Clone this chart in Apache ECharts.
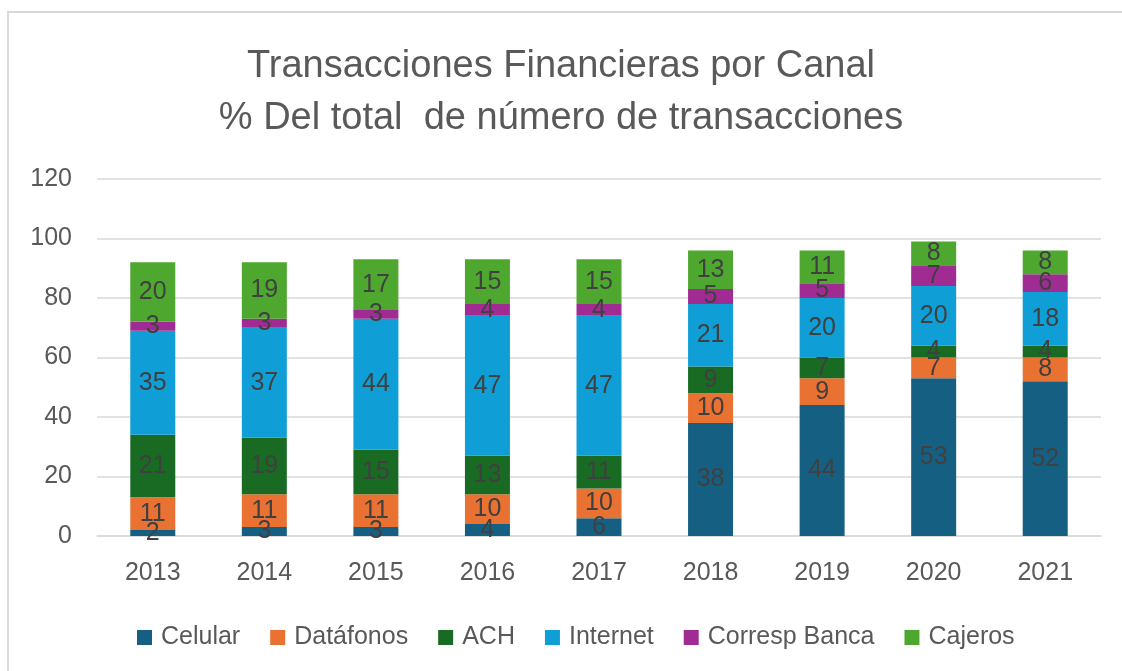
<!DOCTYPE html>
<html>
<head>
<meta charset="utf-8">
<script src="https://cdn.jsdelivr.net/npm/echarts@6/dist/echarts.min.js"></script>
<style>
  html, body { margin: 0; padding: 0; background: #fff; }
  #chart { width: 1122px; height: 671px; }
</style>
</head>
<body>
<div id="chart"></div>
<script>
const years = ['2013', '2014', '2015', '2016', '2017', '2018', '2019', '2020', '2021']
const celular = [2, 3, 3, 4, 6, 38, 44, 53, 52]
const datafonos = [11, 11, 11, 10, 10, 10, 9, 7, 8]
const ach = [21, 19, 15, 13, 11, 9, 7, 4, 4]
const internet = [35, 37, 44, 47, 47, 21, 20, 20, 18]
const corresp = [3, 3, 3, 4, 4, 5, 5, 7, 6]
const cajeros = [20, 19, 17, 15, 15, 13, 11, 8, 8]

const font = 'Liberation Sans, Arial, sans-serif'

const makeSeries = (name, data, color) => ({
  name,
  type: 'bar',
  stack: 'total',
  barWidth: 45,
  data,
  itemStyle: { color },
  label: {
    show: true,
    position: 'inside',
    color: '#404040',
    fontSize: 25,
    fontFamily: font
  }
})

const chart = echarts.init(document.getElementById('chart'))

chart.setOption({
  animation: false,
  graphic: [{
    type: 'rect',
    shape: { x: 8, y: 12, width: 1200, height: 700 },
    style: { fill: 'none', stroke: '#d9d9d9', lineWidth: 2 }
  }],
  title: {
    text: 'Transacciones Financieras por Canal\n% Del total  de número de transacciones',
    left: 'center',
    top: 36,
    textStyle: {
      color: '#595959',
      fontSize: 38,
      fontWeight: 'normal',
      fontFamily: font,
      lineHeight: 52
    }
  },
  legend: {
    top: 625,
    left: 137,
    padding: 0,
    itemWidth: 15,
    itemHeight: 15,
    itemGap: 30,
    icon: 'rect',
    textStyle: { color: '#595959', fontSize: 25, fontFamily: font, padding: [0, 0, 0, 4] }
  },
  grid: {
    left: 97,
    right: 21,
    top: 179,
    bottom: 135
  },
  xAxis: {
    type: 'category',
    data: years,
    axisLine: { lineStyle: { color: '#d9d9d9', width: 1.5 } },
    axisTick: { show: false },
    axisLabel: { color: '#595959', fontSize: 25, fontFamily: font, margin: 25 }
  },
  yAxis: {
    type: 'value',
    min: 0,
    max: 120,
    interval: 20,
    axisLabel: { color: '#595959', fontSize: 25, fontFamily: font, margin: 25 },
    splitLine: { lineStyle: { color: '#d9d9d9', width: 1.5 } }
  },
  series: [
    makeSeries('Celular', celular, '#156082'),
    makeSeries('Datáfonos', datafonos, '#E97132'),
    makeSeries('ACH', ach, '#196B24'),
    makeSeries('Internet', internet, '#0F9ED5'),
    makeSeries('Corresp Banca', corresp, '#A02B93'),
    makeSeries('Cajeros', cajeros, '#4EA72E')
  ]
})
</script>
</body>
</html>
